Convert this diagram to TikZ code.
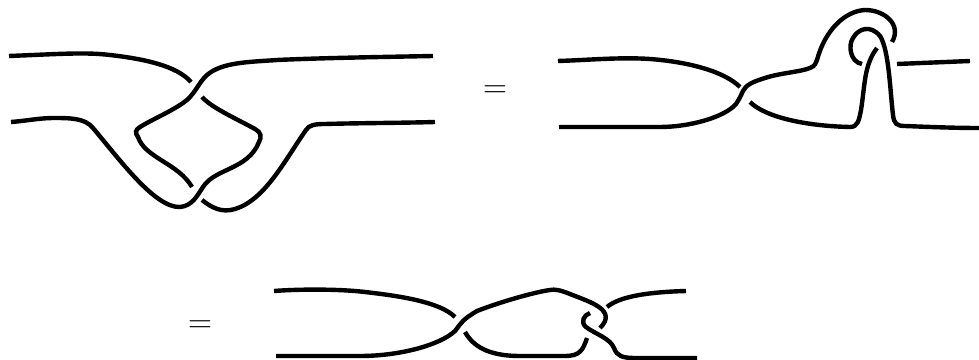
\documentclass[tikz,border=0pt]{standalone}
\usepackage{amsmath,amssymb}
\usepackage{tikz}

\begin{document}
\begin{tikzpicture}[
    x=0.75pt, y=-0.75pt,
    font=\Huge,
    strand/.style={draw=black, line width=3.3pt}
  ]
    \useasboundingbox (0,0) rectangle (979,360);

    % first tangle
    \draw[strand] (9,56) .. controls (60,54) and (85,52) .. (110,55) .. controls (145,59) and (177,66) .. (191,82);
    \draw[strand] (433,56) .. controls (380,57) and (320,58) .. (277,60) .. controls (250,62) and (222,62) .. (207,75) .. controls (198,83) and (195,95) .. (183,103) .. controls (170,112) and (153,119) .. (140,127) .. controls (135,130) and (135,133) .. (138,137) .. controls (145,158) and (178,163) .. (192,187);
    \draw[strand] (202,97) .. controls (212,108) and (235,118) .. (255,129) .. controls (261,132) and (262,137) .. (259,142) .. controls (248,170) and (215,168) .. (203,187) .. controls (197,196) and (192,206) .. (180,207) .. controls (155,208) and (120,160) .. (93,128) .. controls (85,118) and (70,118) .. (53,118) .. controls (40,118) and (25,121) .. (11,122);
    \draw[strand] (202,200) .. controls (212,208) and (222,213) .. (235,209) .. controls (265,200) and (285,160) .. (306,130) .. controls (309,125) and (315,124) .. (325,124) .. controls (360,123) and (400,123) .. (435,122);

    % second tangle
    \draw[strand] (558,61) .. controls (590,60) and (620,57) .. (650,59) .. controls (690,62) and (725,72) .. (740,87);
    \draw[strand] (559,127) -- (660,127) .. controls (690,127) and (725,117) .. (736,104) .. controls (740,98) and (741,95) .. (743,91) .. controls (746,85) and (752,82) .. (765,78) .. controls (780,73) and (800,72) .. (810,68) .. controls (815,66) and (816,63) .. (817,60) .. controls (825,30) and (845,11) .. (865,10) .. controls (885,10) and (902,25) .. (892,42);
    \draw[strand] (862,64) .. controls (850,62) and (848,45) .. (853,38) .. controls (858,29) and (870,24) .. (880,36) .. controls (889,50) and (890,90) .. (893,115) .. controls (894,124) and (897,126) .. (905,126) .. controls (930,127) and (955,128) .. (979,128);
    \draw[strand] (750,102) .. controls (765,117) and (805,126) .. (850,127) .. controls (858,127) and (859,120) .. (861,110) .. controls (865,85) and (864,65) .. (877,48);
    \draw[strand] (897,64) -- (970,61);

    % third tangle
    \draw[strand] (274,291) .. controls (300,289) and (340,289) .. (365,292) .. controls (400,296) and (440,302) .. (455,317);
    \draw[strand] (276,356) -- (360,356) .. controls (400,356) and (440,345) .. (455,331) .. controls (462,322) and (462,320) .. (477,311) .. controls (500,302) and (535,292) .. (550,290) .. controls (555,289) and (560,290) .. (570,294) .. controls (590,302) and (618,310) .. (600,328);
    \draw[strand] (465,332) .. controls (475,350) and (495,356) .. (520,356) -- (565,356) .. controls (580,356) and (583,350) .. (587,338);
    \draw[strand] (590,313) .. controls (584,315) and (580,322) .. (586,327) .. controls (595,334) and (610,338) .. (614,348) .. controls (617,356) and (622,358) .. (635,358) -- (697,358);
    \draw[strand] (607,307) .. controls (620,296) and (650,292) .. (686,291);

    \node (eqtop) at (495,92) {$=$};
    \node (eqbot) at (200,327) {$=$};
  \end{tikzpicture}
\end{document}
